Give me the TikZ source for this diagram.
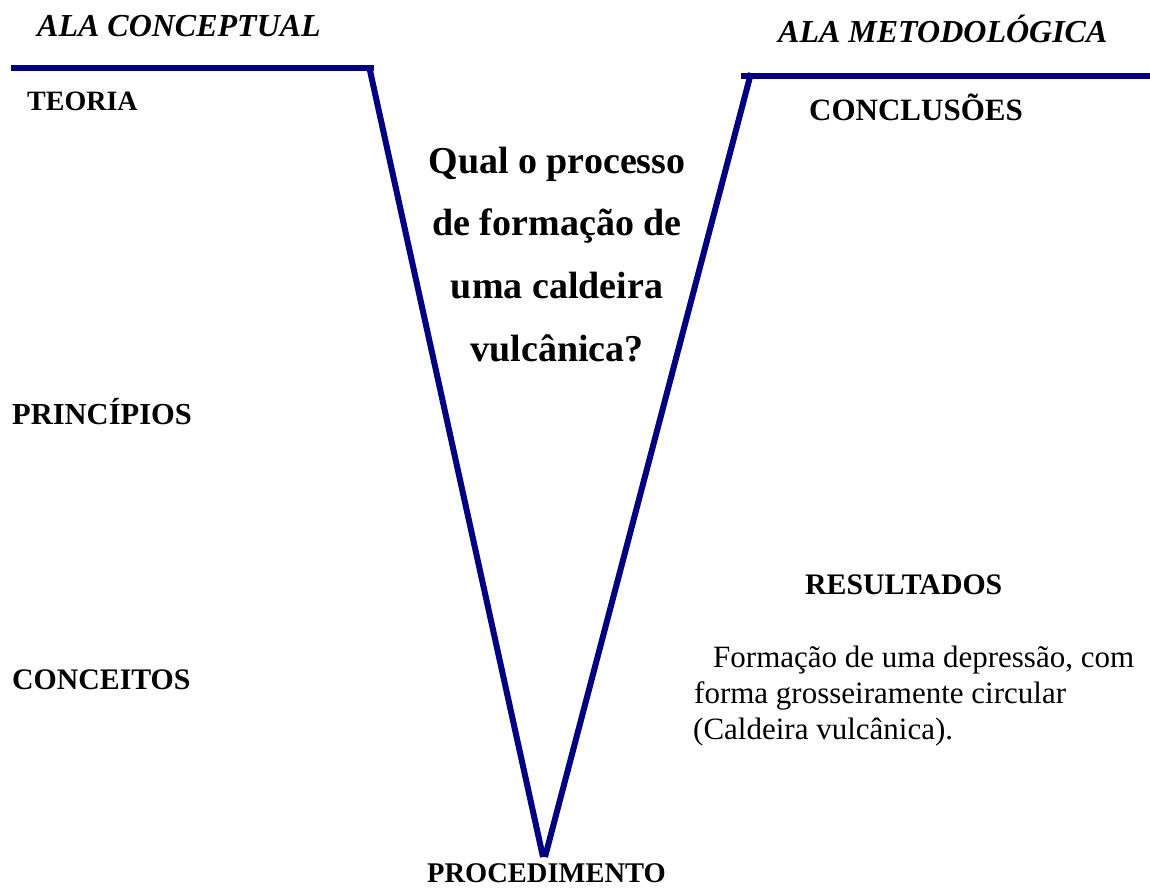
\documentclass[tikz,border=0pt]{standalone}
\usepackage{fontspec}
\setmainfont{Liberation Serif}
\definecolor{vnavy}{RGB}{0,0,128}
\tikzset{
  vline/.style={draw=vnavy, line width=6pt, line cap=butt},
  headlbl/.style={anchor=base west, inner sep=0pt, font=\bfseries},
  alalbl/.style={anchor=base west, inner sep=0pt, font=\fontsize{32}{36}\selectfont\bfseries\itshape},
  qlbl/.style={anchor=base, inner sep=0pt, font=\fontsize{38}{42}\selectfont\bfseries},
  bodylbl/.style={anchor=base west, inner sep=0pt, font=\fontsize{31}{36}\selectfont}
}
\newcommand{\hsz}[1]{\fontsize{#1}{#1}\selectfont}
\begin{document}
\begin{tikzpicture}[x=1pt,y=-1pt]
\useasboundingbox (0,0) rectangle (1150,892);
% line coordinates
\coordinate (lwA) at (11,68);
\coordinate (lwB) at (374,68);
\coordinate (vlT) at (369,66);
\coordinate (vlB) at (543,857);
\coordinate (vrB) at (545,857);
\coordinate (vrT) at (751,73);
\coordinate (rwA) at (741,76);
\coordinate (rwB) at (1150,76);
\draw[vline] (lwA) -- (lwB);
\draw[vline] (rwA) -- (rwB);
\draw[vline] (vlT) -- (vlB);
\draw[vline] (vrB) -- (vrT);
% texts
\node[alalbl] (alac) at (37,36) {ALA CONCEPTUAL};
\node[alalbl] (alam) at (778,42) {ALA METODOLÓGICA};
\node[headlbl] (teoria) at (27,110) {\hsz{28}TEORIA};
\node[headlbl] (concl) at (809,120) {\hsz{31}CONCLUSÕES};
\node[qlbl] (q1) at (557,173) {Qual o processo};
\node[qlbl] (q2) at (557,235) {de formação de};
\node[qlbl] (q3) at (557,298) {uma caldeira};
\node[qlbl] (q4) at (557,361) {vulcânica?};
\node[headlbl] (princ) at (12,424) {\hsz{30.5}PRINCÍPIOS};
\node[headlbl] (result) at (805,594) {\hsz{29.8}RESULTADOS};
\node[headlbl] (conc) at (12,689) {\hsz{29.8}CONCEITOS};
\node[bodylbl] (p1) at (713,667) {Formação de uma depressão, com};
\node[bodylbl] (p2) at (694,703) {forma grosseiramente circular};
\node[bodylbl] (p3) at (693,739) {(Caldeira vulcânica).};
\node[headlbl] (proc) at (427,882) {\hsz{28.5}PROCEDIMENTO};
\end{tikzpicture}
\end{document}
